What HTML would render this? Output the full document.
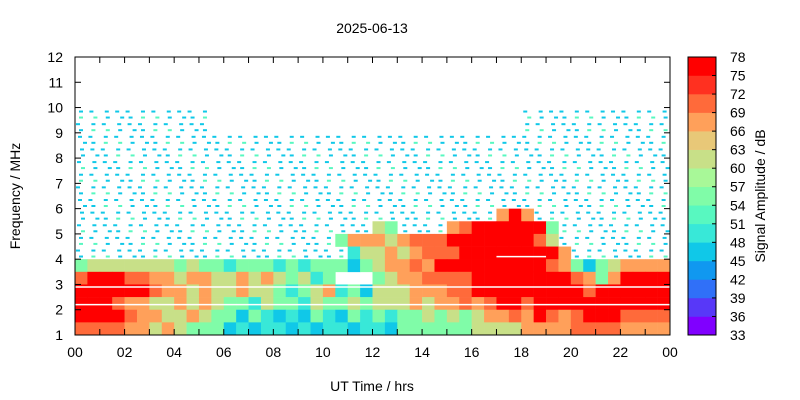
<!DOCTYPE html>
<html><head><meta charset="utf-8"><style>
body{margin:0;background:#fff;}
svg{display:block;font-family:"Liberation Sans",Arial,sans-serif;}
</style></head><body>
<svg id="chart" width="800" height="400" viewBox="0 0 800 400">
<text x="372" y="33" font-size="14" text-anchor="middle">2025-06-13</text>
<g id="cells"></g>
<g id="axes"></g>
<text x="372" y="391" font-size="14" text-anchor="middle">UT Time / hrs</text>
<text transform="translate(20,196) rotate(-90)" font-size="14" text-anchor="middle">Frequency / MHz</text>
<g id="cbar"></g>
<text transform="translate(765,196) rotate(-90)" font-size="14" text-anchor="middle">Signal Amplitude / dB</text>
</svg>
<script>
// data: 48 time columns (0.5 h), 22 frequency rows (0.5 MHz), top row = 11.5-12 MHz
const timeStart = 0, timeStep = 0.5;
const freqTop = 12, freqStep = 0.5;
const codeDb = {c:46, t:50, g:56, y:61, o:67, p:71, r:76, s:45};
const rows = [
"................................................",
"................................................",
"................................................",
"................................................",
"sssssssssss.........................ssssssssssss",
"sssssssssss.........................ssssssssssss",
"ssssssssssssssssssssssssssssssssssssssssssssssss",
"ssssssssssssssssssssssssssssssssssssssssssssssss",
"ssssssssssssssssssssssssssssssssssssssssssssssss",
"ssssssssssssssssssssssssssssssssssssssssssssssss",
"ssssssssssssssssssssssssssssssssssssssssssssssss",
"ssssssssssssssssssssssssssssssssssssssssssssssss",
"ssssssssssssssssssssssssssssssssssorossssssssssss",
"ssssssssssssssssssssssssygssssoprrrrrrgsssssssss",
"sssssssssssssssssssssgoooyoppprrrrrrrpysssssssss",
"sssssssssssssssssssssstyyoyoppprrrrrrrrosssssssss",
"gyyyyyyygyggtgggtgtgggcgyooporrrrrrrrrpogcgyoooo",
"prrrppooyooyyoyoygytg...gyoopppprrrrrrrrpogorrrr",
"rrrrrrpooyoyyoyygtgyotgcyyyooopprrrrrrrrrprrrrrr",
"rrrpooyyoyoyggtyggtyggygyyyoyoopoprrprrrrrrrrrrr",
"rrrrpooyyoyggcgtctcgtcgtgtggygygyooporpoprrrpppp",
"ppppooyoygggctcttctcttcttcggggggyyyyooooppppoooo"
];
const freqRows = rows.map(r => (r + "................................................").slice(0,48));

const X0=75, X1=670, Y0=335, Y1=57;
const xs = h => X0 + (h/24)*(X1-X0);
const ys = f => Y0 - ((f-1)/11)*(Y0-Y1);
const bands = ["#8000ff","#5838f8","#3070f8","#1098f0","#10c8e8","#38e8d8","#58f8c0","#80fca8","#a8f898","#c8e088","#e8c878","#ffa05a","#ff6a3a","#ff3020","#ff0000"];
const color = db => bands[Math.max(0,Math.min(14,Math.floor((db-33)/3)))];
const NS="http://www.w3.org/2000/svg";
const cells=document.getElementById('cells');
freqRows.forEach((row,ri)=>{
  const fHi=freqTop-ri*freqStep, fLo=fHi-freqStep;
  for(let ci=0;ci<48;ci++){
    const ch=row[ci]; if(!(ch in codeDb)) continue;
    const t0=timeStart+ci*timeStep, t1=t0+timeStep;
    const x=xs(t0), w=xs(t1)-x, y=ys(fHi), hgt=ys(fLo)-y;
    if(ch==='s'){
      const k=(ri*7+ci*3)%5;
      const pts=[[1+k,3],[4+(k*2)%6,9]];
      pts.forEach((p,i)=>{
        const d=document.createElementNS(NS,'rect');
        d.setAttribute('x',x+p[0]); d.setAttribute('y',y+p[1]);
        d.setAttribute('width',4); d.setAttribute('height',2);
        d.setAttribute('fill',color(i===1&&k%2?52:codeDb.s));
        
        
        cells.appendChild(d);
      });
    } else {
      const r=document.createElementNS(NS,'rect');
      r.setAttribute('x',x); r.setAttribute('y',y);
      r.setAttribute('width',w+0.3); r.setAttribute('height',hgt+0.3);
      r.setAttribute('fill',color(codeDb[ch]));
      
      
      cells.appendChild(r);
    }
  }
});
// white artifact lines
[[0,24,2.2],[0,24,2.9],[17,19,4.1]].forEach(l=>{
  const ln=document.createElementNS(NS,'line');
  ln.setAttribute('x1',xs(l[0]));ln.setAttribute('x2',xs(l[1]));
  ln.setAttribute('y1',ys(l[2]));ln.setAttribute('y2',ys(l[2]));
  ln.setAttribute('stroke','#fff');ln.setAttribute('stroke-width','1.5');
  
  
  cells.appendChild(ln);
});
// axes
const axes=document.getElementById('axes');
let s=`<rect x="${X0}" y="${Y1}" width="${X1-X0}" height="${Y0-Y1}" fill="none" stroke="#000" stroke-width="1"/>`;
for(let h=0;h<=24;h++){
  const x=xs(h);
  s+=`<line x1="${x}" x2="${x}" y1="${Y0}" y2="${Y0-6}" stroke="#000"/><line x1="${x}" x2="${x}" y1="${Y1}" y2="${Y1+6}" stroke="#000"/>`;
  if(h%2===0) s+=`<text x="${x}" y="${Y0+22}" font-size="14" text-anchor="middle">${String(h%24).padStart(2,'0')}</text>`;
}
for(let f=1;f<=12;f++){
  const y=ys(f);
  s+=`<line x1="${X0}" x2="${X0+6}" y1="${y}" y2="${y}" stroke="#000"/><line x1="${X1}" x2="${X1-6}" y1="${y}" y2="${y}" stroke="#000"/>`;
  s+=`<text x="${X0-12}" y="${y+5}" font-size="14" text-anchor="end">${f}</text>`;
}
axes.innerHTML=s;
// colorbar
const cb=document.getElementById('cbar');
let c='';const CX=688,CW=28,bh=(Y0-Y1)/15;
for(let i=0;i<15;i++){c+=`<rect x="${CX}" y="${Y0-(i+1)*bh}" width="${CW}" height="${bh+0.3}" fill="${bands[i]}"/>`;}
c+=`<rect x="${CX}" y="${Y1}" width="${CW}" height="${Y0-Y1}" fill="none" stroke="#000"/>`;
for(let i=0;i<=15;i++){const y=Y0-i*bh;
  c+=`<line x1="${CX+CW}" x2="${CX+CW-4}" y1="${y}" y2="${y}" stroke="#000"/>`;
  c+=`<text x="${CX+CW+14}" y="${y+5}" font-size="14">${33+i*3}</text>`;}
cb.innerHTML=c;
</script>
</body></html>
